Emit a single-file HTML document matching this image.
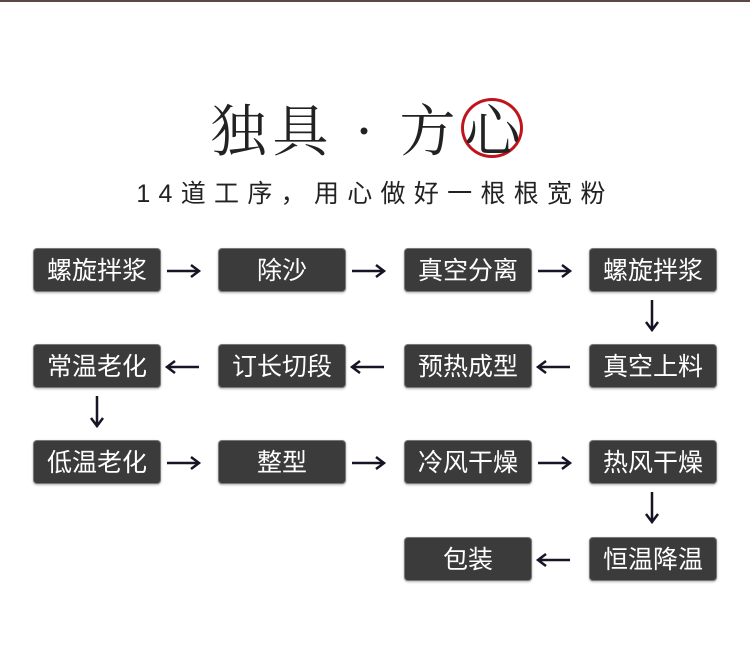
<!DOCTYPE html>
<html><head><meta charset="utf-8"><style>
body{margin:0;width:750px;height:650px;background:#fff;position:relative;overflow:hidden;font-family:"Liberation Sans","Noto Sans CJK SC",sans-serif}
.top{position:absolute;left:0;top:0;width:750px;height:2px;background:#5a4a42}
.t{position:absolute;left:0;width:750px;text-align:center;color:#222}
.b{position:absolute;width:126px;height:42px;background:#3b3b3b;border:1px solid #777;border-radius:4px;color:#fff;font-size:25px;line-height:44px;text-align:center;box-shadow:0 1px 2px rgba(0,0,0,.3)}
svg{position:absolute;left:0;top:0}
</style></head><body>
<div class="top"></div>
<div class="t" style="top:88px;left:-8px;font-size:56px;font-family:'Noto Serif CJK SC',serif;letter-spacing:6px">独具 · 方<span style="display:inline-block;border-radius:50%;box-shadow:inset 0 0 0 3px #c0141c;line-height:60px;width:62px;letter-spacing:0">心</span></div>
<div class="t" style="top:174px;left:0px;font-size:25px;letter-spacing:8.3px">14道工序，用心做好一根根宽粉</div>

<div class="b" style="left:33px;top:248px">螺旋拌浆</div>
<div class="b" style="left:218px;top:248px">除沙</div>
<div class="b" style="left:404px;top:248px">真空分离</div>
<div class="b" style="left:589px;top:248px">螺旋拌浆</div>

<div class="b" style="left:33px;top:344px">常温老化</div>
<div class="b" style="left:218px;top:344px">订长切段</div>
<div class="b" style="left:404px;top:344px">预热成型</div>
<div class="b" style="left:589px;top:344px">真空上料</div>

<div class="b" style="left:33px;top:440px">低温老化</div>
<div class="b" style="left:218px;top:440px">整型</div>
<div class="b" style="left:404px;top:440px">冷风干燥</div>
<div class="b" style="left:589px;top:440px">热风干燥</div>

<div class="b" style="left:404px;top:537px">包装</div>
<div class="b" style="left:589px;top:537px">恒温降温</div>

<svg width="750" height="650" fill="none" stroke="#151525" stroke-width="2.5">
<defs><path id="r" d="M0 0H32M24 -6L32 0L24 6"/><path id="l" d="M0 0H32M8 -6L0 0L8 6"/><path id="d" d="M0 0V30M-6 22L0 30L6 22"/></defs>
<use href="#r" x="167" y="271"/><use href="#r" x="352" y="271"/><use href="#r" x="538" y="271"/>
<use href="#l" x="167" y="367"/><use href="#l" x="352" y="367"/><use href="#l" x="538" y="367"/>
<use href="#r" x="167" y="463"/><use href="#r" x="352" y="463"/><use href="#r" x="538" y="463"/>
<use href="#l" x="538" y="560"/>
<use href="#d" x="652" y="300"/><use href="#d" x="97" y="396"/><use href="#d" x="652" y="492"/>
</svg>
</body></html>
